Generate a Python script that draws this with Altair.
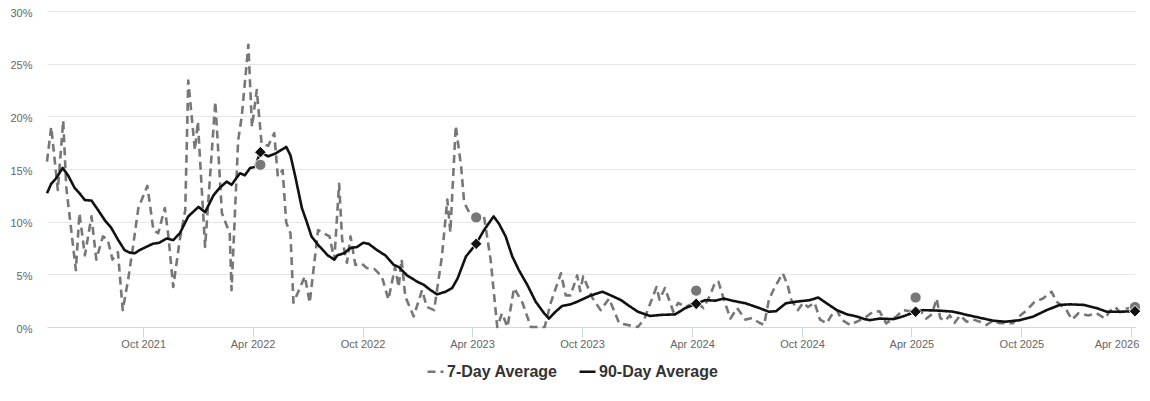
import altair as alt
import pandas as pd

FONT = "Liberation Sans, Arial, Helvetica, sans-serif"

series_names = ["7-Day Average", "90-Day Average"]
series_colors = ["#777777", "#111111"]

seven_dates = [
    "2021-04-24", "2021-05-01", "2021-05-12", "2021-05-21", "2021-05-26", "2021-06-11", "2021-06-17",
    "2021-06-26", "2021-07-07", "2021-07-15", "2021-07-26", "2021-08-03", "2021-08-11", "2021-08-20",
    "2021-08-28", "2021-09-06", "2021-09-14", "2021-09-23", "2021-10-08", "2021-10-18", "2021-10-26",
    "2021-11-06", "2021-11-12", "2021-11-20", "2021-12-01", "2021-12-10", "2021-12-15", "2021-12-26",
    "2021-12-31", "2022-01-12", "2022-01-29", "2022-02-09", "2022-02-22", "2022-02-25", "2022-03-08",
    "2022-03-14", "2022-03-25", "2022-03-31", "2022-04-08", "2022-04-16", "2022-04-27", "2022-05-07",
    "2022-05-13", "2022-05-21", "2022-05-27", "2022-06-03", "2022-06-08", "2022-06-27", "2022-07-05",
    "2022-07-19", "2022-08-07", "2022-08-15", "2022-08-23", "2022-08-28", "2022-09-05", "2022-09-11",
    "2022-09-19", "2022-09-30", "2022-10-08", "2022-10-21", "2022-11-02", "2022-11-13", "2022-11-24",
    "2022-11-30", "2022-12-05", "2022-12-11", "2022-12-25", "2023-01-08", "2023-01-16", "2023-01-28",
    "2023-02-10", "2023-02-19", "2023-02-24", "2023-03-05", "2023-03-14", "2023-03-19", "2023-03-30",
    "2023-04-08", "2023-04-21", "2023-05-02", "2023-05-13", "2023-05-21", "2023-05-30", "2023-06-10",
    "2023-06-24", "2023-07-08", "2023-07-31", "2023-08-10", "2023-08-27", "2023-09-04", "2023-09-12",
    "2023-09-23", "2023-09-28", "2023-10-03", "2023-10-19", "2023-11-01", "2023-11-15", "2023-12-02",
    "2024-01-02", "2024-01-13", "2024-02-02", "2024-02-07", "2024-02-16", "2024-03-01", "2024-03-09",
    "2024-03-21", "2024-04-08", "2024-04-20", "2024-05-01", "2024-05-10", "2024-05-15", "2024-05-24",
    "2024-06-04", "2024-06-15", "2024-06-29", "2024-07-10", "2024-07-22", "2024-07-30", "2024-08-07",
    "2024-08-16", "2024-08-30", "2024-09-07", "2024-09-13", "2024-09-24", "2024-10-03", "2024-10-11",
    "2024-10-22", "2024-10-31", "2024-11-11", "2024-11-19", "2024-11-28", "2024-12-06", "2024-12-20",
    "2025-01-13", "2025-01-27", "2025-02-07", "2025-02-18", "2025-03-07", "2025-03-18", "2025-03-29",
    "2025-04-08", "2025-04-15", "2025-04-26", "2025-05-05", "2025-05-13", "2025-05-19", "2025-05-27",
    "2025-06-04", "2025-06-12", "2025-06-21", "2025-07-02", "2025-07-13", "2025-07-24", "2025-08-04",
    "2025-08-15", "2025-08-26", "2025-09-17", "2025-09-23", "2025-10-10", "2025-10-23", "2025-11-06",
    "2025-11-20", "2025-11-29", "2025-12-07", "2025-12-15", "2025-12-24", "2026-01-04", "2026-01-20",
    "2026-02-03", "2026-02-17", "2026-02-25", "2026-03-06", "2026-03-14", "2026-03-23", "2026-04-03",
    "2026-04-08",
]
seven_vals = [
    15.7, 19.0, 13.0, 19.6, 13.3, 5.4, 10.8,
    6.8, 10.5, 6.4, 8.6, 8.3, 6.4, 7.1,
    1.6, 4.5, 7.6, 11.3, 13.4, 9.2, 8.9,
    11.3, 8.6, 3.8, 8.3, 11.1, 23.4, 16.8,
    19.5, 7.6, 21.4, 10.8, 8.9, 3.5, 17.7,
    20.0, 26.8, 19.0, 22.5, 17.4, 17.2, 18.4,
    14.3, 14.9, 9.9, 8.9, 2.3, 4.8, 2.3,
    9.2, 8.6, 6.4, 13.6, 8.3, 6.1, 8.6,
    5.9, 6.0, 5.6, 5.5, 4.8, 2.6, 5.7,
    3.8, 6.4, 2.9, 1.0, 3.5, 1.9, 1.6,
    6.7, 12.1, 9.0, 19.1, 15.2, 11.8, 10.6,
    10.4, 10.5, 6.4, 0.0, 1.3, 0.0, 3.7,
    2.3, 0.0, 0.0, 2.3, 5.1, 3.0, 3.0,
    4.9, 3.4, 4.8, 2.7, 1.6, 2.7, 0.35,
    0.0, 0.8, 3.8, 2.6, 3.7, 1.45, 2.3,
    1.9, 2.4, 1.8, 3.0, 4.3, 4.3, 2.6,
    0.8, 1.8, 0.7, 0.85, 0.4, 0.2, 2.6,
    3.7, 5.1, 4.0, 2.6, 1.6, 2.3, 1.9,
    2.3, 0.7, 0.35, 1.1, 1.6, 0.7, 0.2,
    0.85, 1.45, 1.5, 0.35, 1.0, 1.6, 1.5,
    1.7, 1.6, 0.8, 1.2, 2.7, 0.85, 0.6,
    1.1, 0.4, 1.1, 0.5, 0.7, 0.5, 0.2,
    0.6, 0.35, 0.35, 0.8, 1.6, 2.4, 2.7,
    3.35, 2.4, 2.0, 1.6, 0.7, 1.3, 1.1,
    1.3, 0.8, 1.5, 1.9, 1.4, 1.7, 1.9,
    1.7,
]

ninety_dates = [
    "2021-04-24", "2021-05-01", "2021-05-09", "2021-05-20", "2021-05-29", "2021-06-09", "2021-06-17",
    "2021-06-26", "2021-07-07", "2021-07-18", "2021-07-29", "2021-08-09", "2021-08-20", "2021-08-31",
    "2021-09-09", "2021-09-17", "2021-09-25", "2021-10-06", "2021-10-17", "2021-10-28", "2021-11-09",
    "2021-11-20", "2021-12-01", "2021-12-15", "2022-01-01", "2022-01-12", "2022-01-26", "2022-02-05",
    "2022-02-17", "2022-02-25", "2022-03-11", "2022-03-19", "2022-03-28", "2022-04-05", "2022-04-14",
    "2022-04-27", "2022-05-10", "2022-05-27", "2022-06-03", "2022-06-11", "2022-06-22", "2022-06-30",
    "2022-07-08", "2022-07-19", "2022-07-27", "2022-08-04", "2022-08-15", "2022-08-20", "2022-08-31",
    "2022-09-11", "2022-09-22", "2022-10-02", "2022-10-11", "2022-10-25", "2022-11-08", "2022-11-22",
    "2022-11-30", "2022-12-14", "2022-12-31", "2023-01-11", "2023-01-22", "2023-02-02", "2023-02-16",
    "2023-02-27", "2023-03-08", "2023-03-22", "2023-04-08", "2023-04-21", "2023-05-07", "2023-05-16",
    "2023-05-27", "2023-06-07", "2023-06-18", "2023-07-02", "2023-07-16", "2023-07-30", "2023-08-07",
    "2023-08-18", "2023-08-29", "2023-09-12", "2023-09-23", "2023-10-16", "2023-11-04", "2023-11-18",
    "2023-12-05", "2023-12-16", "2024-01-02", "2024-01-22", "2024-02-10", "2024-03-04", "2024-03-21",
    "2024-04-08", "2024-04-23", "2024-05-10", "2024-05-24", "2024-06-07", "2024-06-29", "2024-07-22",
    "2024-08-07", "2024-08-19", "2024-09-04", "2024-09-21", "2024-10-14", "2024-10-28", "2024-11-11",
    "2024-11-28", "2024-12-15", "2024-12-31", "2025-01-13", "2025-01-22", "2025-02-07", "2025-03-02",
    "2025-03-18", "2025-04-08", "2025-04-21", "2025-05-19", "2025-06-10", "2025-07-02", "2025-07-30",
    "2025-08-15", "2025-09-04", "2025-09-29", "2025-10-21", "2025-11-12", "2025-12-04", "2025-12-21",
    "2026-01-12", "2026-02-03", "2026-02-20", "2026-03-14", "2026-04-08",
]
ninety_vals = [
    12.7, 13.6, 14.1, 15.1, 14.4, 13.2, 12.7,
    12.05, 12.0, 11.1, 10.15, 9.4, 8.3, 7.3,
    7.05, 7.0, 7.3, 7.6, 7.9, 8.0, 8.4,
    8.25, 8.9, 10.5, 11.4, 10.9, 12.5, 13.2,
    13.8, 13.5, 14.6, 14.4, 15.1, 15.2, 16.6,
    16.2, 16.5, 17.1, 16.3, 14.3, 11.3, 10.0,
    8.6, 7.8, 7.3, 6.8, 6.4, 6.8, 7.0,
    7.5, 7.6, 8.0, 7.9, 7.3, 6.8, 5.9,
    5.7, 4.9, 4.3, 4.0, 3.5, 3.1, 3.35,
    3.7, 4.6, 6.7, 7.9, 9.2, 10.5, 9.8,
    8.6, 6.7, 5.4, 4.0, 2.4, 1.3, 0.8,
    1.45, 2.0, 2.15, 2.4, 3.0, 3.35, 3.0,
    2.55, 2.1, 1.45, 1.05, 1.15, 1.2, 1.8,
    2.2, 2.55, 2.5, 2.7, 2.5, 2.25, 1.8,
    1.45, 1.5, 2.25, 2.4, 2.55, 2.8, 2.25,
    1.6, 1.2, 1.0, 0.75, 0.65, 0.8, 0.75,
    1.0, 1.45, 1.6, 1.55, 1.45, 1.15, 0.8,
    0.6, 0.5, 0.65, 1.0, 1.6, 2.1, 2.15,
    2.1, 1.8, 1.45, 1.45, 1.5,
]

marker_dates = ["2022-04-14", "2023-04-08", "2024-04-08", "2025-04-08", "2026-04-08"]
marker_seven_vals = [15.4, 10.4, 3.45, 2.8, 1.9]
marker_ninety_vals = [16.6, 7.9, 2.2, 1.45, 1.5]

tick_dates = ["2021-10-01", "2022-04-01", "2022-10-01", "2023-04-01", "2023-10-01",
              "2024-04-01", "2024-10-01", "2025-04-01", "2025-10-01", "2026-04-01"]
y_ticks = [0, 5, 10, 15, 20, 25, 30]
x_start, x_end = "2021-04-24", "2026-04-08"


def ms(s):
    return int(pd.Timestamp(s, tz="UTC").value // 10**6)


lines = pd.DataFrame({
    "date": seven_dates + ninety_dates,
    "value": seven_vals + ninety_vals,
    "series": [series_names[0]] * len(seven_dates) + [series_names[1]] * len(ninety_dates),
})
markers = pd.DataFrame({
    "date": marker_dates,
    "seven": marker_seven_vals,
    "ninety": marker_ninety_vals,
})

last_tick = ms(tick_dates[-1])

x_enc = alt.X(
    "date:T",
    title=None,
    scale=alt.Scale(type="utc", domain=[ms(x_start), ms(x_end)], nice=False),
    axis=alt.Axis(
        values=[ms(t) for t in tick_dates],
        labelExpr="utcFormat(datum.value, '%b %Y')",
        grid=False,
        domainColor="#ccd6eb",
        tickColor="#ccd6eb",
        tickSize=10,
        labelColor="#666666",
        labelFont=FONT,
        labelFontSize=11,
        labelPadding=1,
        labelAlign={"condition": {"test": f"datum.value >= {last_tick}", "value": "right"}, "value": "center"},
        labelOffset={"condition": {"test": f"datum.value >= {last_tick}", "value": 8}, "value": 0},
        labelOverlap=False,
        labelFlush=False,
        zindex=0,
    ),
)

y_scale = alt.Scale(domain=[0, 30], nice=False)
y_axis = alt.Axis(
    values=y_ticks,
    labelExpr="datum.value + '%'",
    domain=False,
    ticks=False,
    gridColor="#e6e6e6",
    labelColor="#666666",
    labelFont=FONT,
    labelFontSize=11,
    labelPadding=15,
    labelOffset=2,
)

legend = alt.Legend(
    title=None,
    orient="none",
    legendX=379,
    legendY=351,
    direction="horizontal",
    symbolType="stroke",
    symbolSize=256,
    symbolStrokeWidth=2.5,
    labelFont=FONT,
    labelFontSize=16,
    labelFontWeight="bold",
    labelColor="#333333",
    labelOffset=2,
    columnPadding=16,
    padding=0,
    labelLimit=300,
)

line_layer = alt.Chart(lines).mark_line(strokeWidth=2.6, strokeJoin="round").encode(
    x=x_enc,
    y=alt.Y("value:Q", title=None, scale=y_scale, axis=y_axis),
    color=alt.Color("series:N", scale=alt.Scale(domain=series_names, range=series_colors), legend=legend),
    strokeDash=alt.StrokeDash("series:N", scale=alt.Scale(domain=series_names, range=[[8, 5], [1, 0]]), legend=legend),
)

circle_layer = alt.Chart(markers).mark_point(
    shape="circle", filled=True, size=125, fill="#777777", stroke="white", strokeWidth=1, opacity=1
).encode(x=alt.X("date:T"), y=alt.Y("seven:Q"))

diamond_layer = alt.Chart(markers).mark_point(
    shape="diamond", filled=True, size=135, fill="#111111", stroke="white", strokeWidth=1, opacity=1
).encode(x=alt.X("date:T"), y=alt.Y("ninety:Q"))

chart = alt.layer(line_layer, circle_layer, diamond_layer).properties(
    width=1088,
    height=316,
    autosize="none",
    padding={"left": 39, "top": 3, "right": 7, "bottom": 60},
    background="white",
).configure_view(strokeWidth=0)

chart.save("out.html", embed_options={"renderer": "svg", "actions": False})
